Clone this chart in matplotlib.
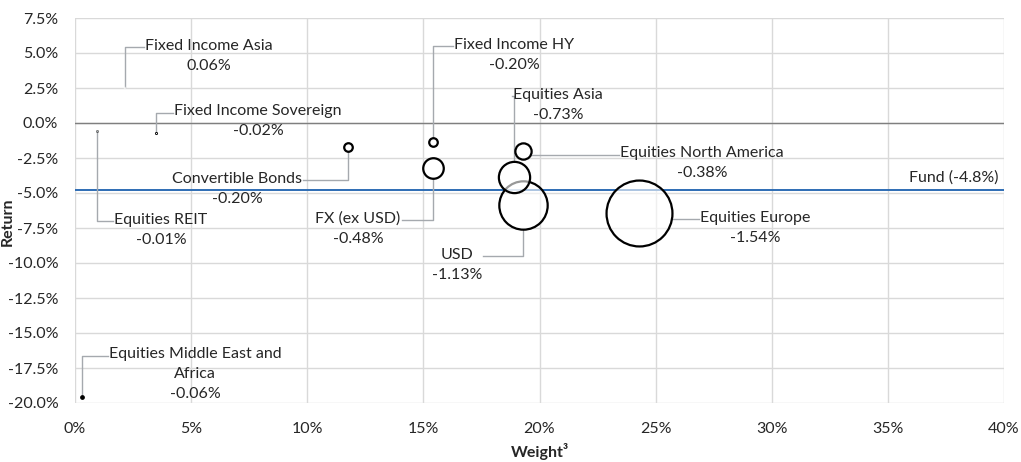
import matplotlib
matplotlib.use("Agg")
import matplotlib.pyplot as plt
from matplotlib.ticker import FuncFormatter

# ---------------- data ----------------
names = ["Equities Europe", "USD", "Equities Asia", "FX (ex USD)", "Equities North America",
         "Convertible Bonds", "Fixed Income HY", "Fixed Income Asia",
         "Equities Middle East and\nAfrica", "Fixed Income Sovereign", "Equities REIT"]
weight = [24.3, 19.3, 18.9, 15.4, 19.3, 11.77, 15.4, 2.15, 0.3, 3.5, 0.95]          # %
ret = [-6.4, -5.85, -3.85, -3.2, -2.0, -1.7, -1.36, 2.5, -19.6, -0.7, -0.55]          # %
contrib = [-1.54, -1.13, -0.73, -0.48, -0.38, -0.20, -0.20, 0.06, -0.06, -0.02, -0.01]  # %
fund_return = -4.8

x_ticks = [0, 5, 10, 15, 20, 25, 30, 35, 40]
y_ticks = [7.5, 5.0, 2.5, 0.0, -2.5, -5.0, -7.5, -10.0, -12.5, -15.0, -17.5, -20.0]

# ---------------- layout (label centres in data units, leader style) ----------------
label_pos = [(29.28, -7.5), (16.45, -10.14), (20.80, 1.29), (12.19, -7.57), (27.0, -2.86),
             (6.98, -4.71), (18.90, 4.86), (5.77, 4.79), (5.17, -17.93), (7.88, 0.14), (3.70, -7.64)]
leader = ["h", "right", "left", "right", "h", "right", "left", "left", "left", "left", "left"]

plt.rcParams['font.family'] = ['Lato', 'DejaVu Sans']
TXT = "#262626"
GRID = "#D9D9D9"
LEAD = "#A5A9AE"
FS = 11.5

W, H, DPI = 1021, 462, 100
fig = plt.figure(figsize=(W / DPI, H / DPI), dpi=DPI)
ax = fig.add_axes([75 / W, 1 - 403 / H, (1004 - 75) / W, (403 - 18) / H])
ax.set_xlim(0, 40)
ax.set_ylim(-20, 7.5)
ax.set_xticks(x_ticks)
ax.set_yticks(y_ticks)
ax.xaxis.set_major_formatter(FuncFormatter(lambda v, p: f"{v:.0f}%"))
ax.yaxis.set_major_formatter(FuncFormatter(lambda v, p: f"{v:.1f}%"))
ax.grid(True, color=GRID, linewidth=1.0)
ax.set_axisbelow(True)
for s in ax.spines.values():
    s.set_visible(False)
ax.tick_params(length=0, labelsize=FS, colors=TXT, pad=12)
ax.tick_params(axis='x', pad=14)

ax.axhline(0, color="#7F7F7F", linewidth=1.0, zorder=1)
ax.axhline(fund_return, color="#2E6DB4", linewidth=1.4, zorder=1)
ax.text(39.75, fund_return + 0.4, f"Fund ({fund_return:.1f}%)", ha="right", va="bottom",
        fontsize=FS, color=TXT)

ax.set_xlabel("Weight³", fontsize=FS, fontweight="bold", color=TXT, labelpad=5)
ax.set_ylabel("Return", fontsize=FS, fontweight="bold", color=TXT)
ax.yaxis.set_label_coords(-60 / (1004 - 75), (403 - 222) / (403 - 18))

# bubbles: radius proportional to |contribution|
px_per_pct = 21.4
pt_per_px = 72 / DPI
for i in range(len(names)):
    r_px = px_per_pct * abs(contrib[i])
    d_pt = 2 * r_px * pt_per_px
    ec = "black" if contrib[i] < 0 else "none"
    ax.scatter([weight[i]], [ret[i]], s=d_pt ** 2, facecolors=(1, 1, 1, 0.6),
               edgecolors=ec, linewidths=1.6, zorder=3 + i)

# labels
texts = []
for i in range(len(names)):
    t = ax.text(label_pos[i][0], label_pos[i][1], f"{names[i]}\n{contrib[i]:.2f}%",
                ha="center", va="center", multialignment="center", fontsize=FS,
                color=TXT, linespacing=1.55, zorder=20)
    texts.append(t)

fig.canvas.draw()
r = fig.canvas.get_renderer()
inv = ax.transData.inverted()
for i, t in enumerate(texts):
    bb = t.get_window_extent(renderer=r)
    nl = t.get_text().count("\n") + 1
    lh = bb.height / nl
    y1_disp = bb.y1 - lh / 2
    px, py = ax.transData.transform((weight[i], ret[i]))
    r_px = px_per_pct * abs(contrib[i])
    if leader[i] == "h":
        pts = [(px + r_px, y1_disp), (bb.x0 - 1, y1_disp)]
    else:
        ex = bb.x0 - 1 if leader[i] == "left" else bb.x1 + 1
        sy = py + r_px if y1_disp > py else py - r_px
        pts = [(px, sy), (px, y1_disp), (ex, y1_disp)]
    dpts = [inv.transform(p) for p in pts]
    ax.plot([p[0] for p in dpts], [p[1] for p in dpts], color=LEAD, linewidth=1.0, zorder=2)

fig.savefig("out.png", dpi=DPI)
